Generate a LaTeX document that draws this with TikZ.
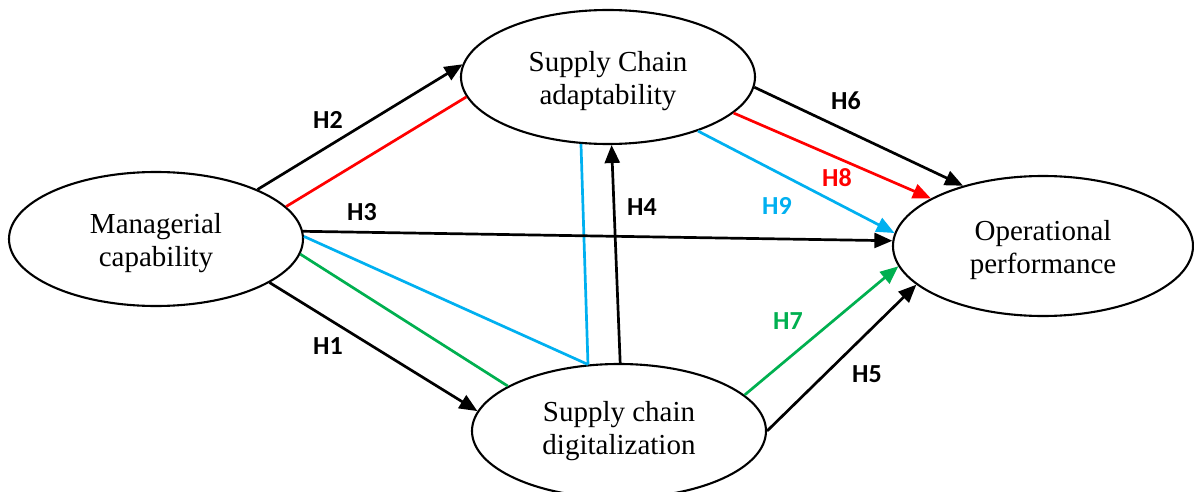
\documentclass[tikz,border=0pt]{standalone}
\usepackage{fontspec}
\setmainfont{Liberation Serif}
\newfontfamily\labelfont{Carlito}
\usetikzlibrary{shapes.geometric,arrows.meta}
\definecolor{hred}{HTML}{FF0000}
\definecolor{hblue}{HTML}{00B0F0}
\definecolor{hgreen}{HTML}{00B050}
\newcommand\topstrut{\rule{0pt}{28pt}}
\begin{document}
\begin{tikzpicture}[x=1pt,y=-1pt,
  construct/.style={ellipse,draw,line width=2.1pt,inner sep=0pt,minimum width=294pt,minimum height=134pt,align=center,font=\fontsize{29}{33.5}\selectfont},
  conn/.style={line width=2.7pt},
  arr/.style={conn,-{Triangle[length=18pt,width=15pt]}},
  hlab/.style={font=\labelfont\bfseries\fontsize{26}{30}\selectfont,inner sep=0pt}
]
\useasboundingbox[fill=white] (0,0) rectangle (1194,492);
\node[construct] (mc) at (156,239) {\topstrut Managerial\\capability};
\node[construct] (sca) at (608,77) {\topstrut Supply Chain\\adaptability};
\node[construct] (scd) at (619,431) {Supply chain\\digitalization};
\node[construct,minimum width=300pt,minimum height=140pt] (op) at (1043,246) {\topstrut Operational\\performance};

% plain (no arrow) lines
\draw[conn,hred] (mc.14.7) -- (sca.188.9);
\draw[conn,hblue] (mc.1.6) -- (scd.115.2);
\draw[conn,hblue] (scd.115.2) -- (sca.248.5);
\draw[conn,hgreen] (mc.354.6) -- (scd.158.5);

% arrows
\draw[arr] (mc.26.8) -- (sca.175.3);
\draw[arr] (mc.3.1) -- (op.178.9);
\draw[arr] (mc.339) -- (scd.172.1);
\draw[arr] (scd.89) -- (sca.273.5);
\draw[arr] (sca.356.9) -- (op.143.7);
\draw[arr,hred] (sca.344.7) -- (op.157.4);
\draw[arr,hblue] (sca.329) -- (op.175);
\draw[arr,hgreen] (scd.16.4) -- (op.188.5);
\draw[arr] (scd.0.4) -- (op.197.4);

% labels
\node[hlab] (l1) at (328,346) {H1};
\node[hlab] (l2) at (328,120) {H2};
\node[hlab] (l3) at (362,212) {H3};
\node[hlab] (l4) at (642,207) {H4};
\node[hlab] (l5) at (867,374) {H5};
\node[hlab] (l6) at (846,101) {H6};
\node[hlab,text=hgreen] (l7) at (788,321) {H7};
\node[hlab,text=hred] (l8) at (837,178) {H8};
\node[hlab,text=hblue] (l9) at (777,206) {H9};
\end{tikzpicture}
\end{document}
